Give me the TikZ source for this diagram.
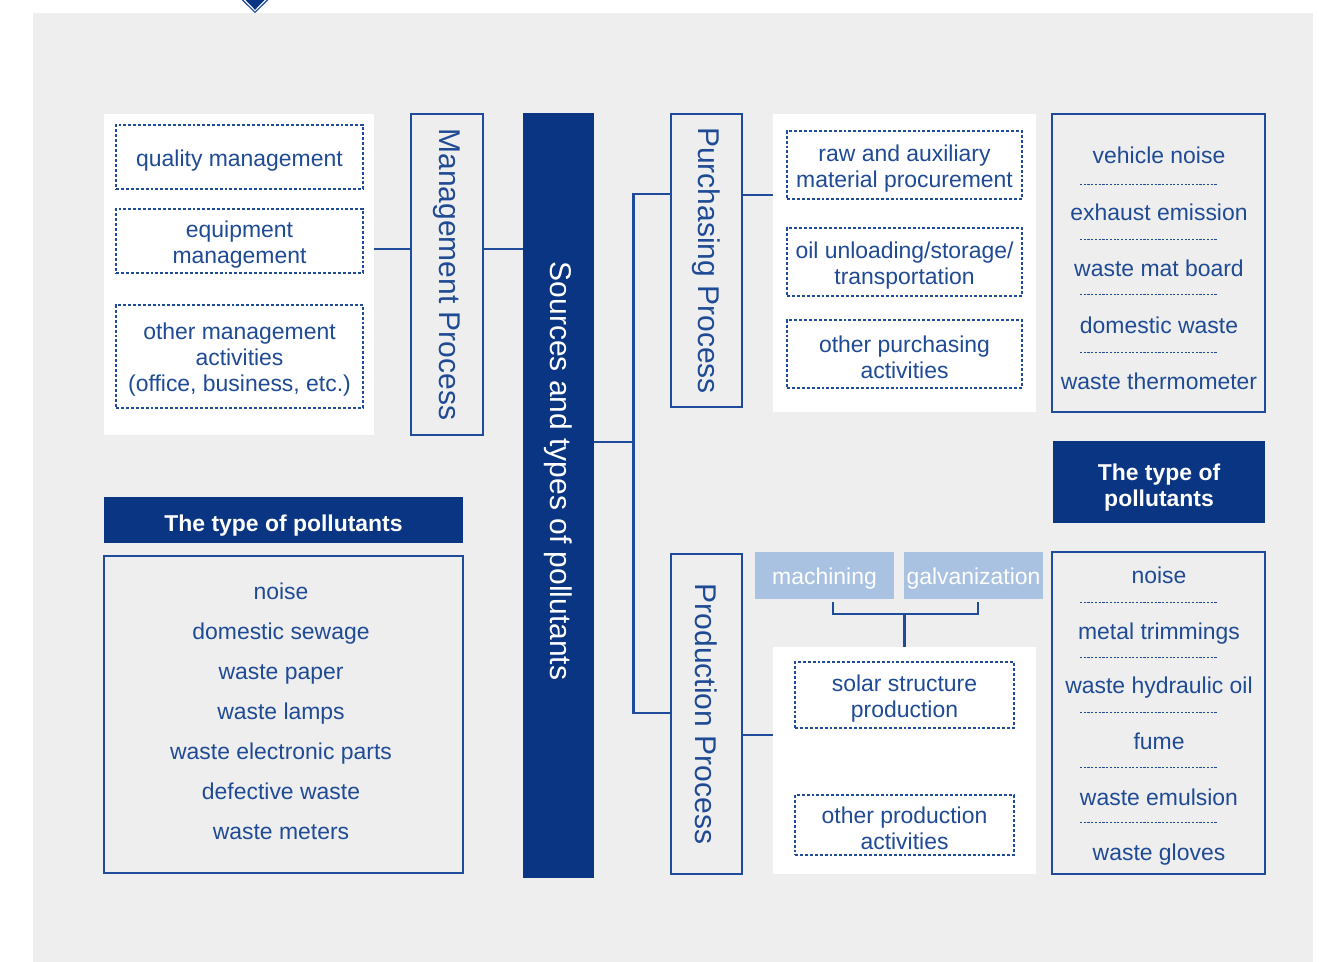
\documentclass[tikz,border=0pt]{standalone}
\usepackage{fontspec}
\setmainfont{Liberation Sans}
\usetikzlibrary{fit}
\definecolor{bgc}{HTML}{EEEEEE}
\definecolor{dblue}{HTML}{0A3582}
\definecolor{tblue}{HTML}{1F4A94}
\definecolor{lblue}{HTML}{1F4C9A}
\definecolor{pale}{HTML}{A9C2E2}
\begin{document}
\begin{tikzpicture}[x=0.75pt,y=-0.75pt,
  every node/.style={font=\fontsize{17.2}{19.5}\selectfont, text=tblue, inner sep=0pt},
  item/.style={text height=16pt, text depth=3pt},
  panel/.style={fill=white},
  dbox/.style={draw=lblue, line width=0.9pt, dash pattern=on 2.2pt off 1.5pt},
  txt/.style={label={[align=center, text=tblue, yshift=-2.5pt]center:#1}},
  wtxt/.style={label={[align=center, text=white, yshift=-2pt]center:#1}},
  btxt/.style={label={[align=center, text=white, yshift=-4pt, font=\fontsize{17.2}{19.5}\selectfont\bfseries]center:#1}},
  proc/.style={draw=lblue, line width=1.6pt, fill=bgc},
  conn/.style={draw=lblue, line width=1.6pt},
  plist/.style={draw=lblue, line width=0.9pt},
  sepline/.style={draw=lblue, line width=0.6pt, dash pattern=on 1.6pt off 1.2pt},
  hdr/.style={fill=dblue},
  palebox/.style={fill=pale},
  rot/.style={rotate=-90, font=\fontsize{22.5}{26}\selectfont},
]
\useasboundingbox (0,0) rectangle (1319,962);
\fill[bgc] (33,13) rectangle (1313,962);
% top diamond marker
\fill[lblue] (241.5,0) -- (255,13) -- (268.5,0) -- cycle;
\fill[white] (243.5,0) -- (255,11.5) -- (266.5,0) -- cycle;
\fill[dblue] (245.5,0) -- (255,9.8) -- (264.5,0) -- cycle;

% ---------- management side ----------
\node[panel, fit={(104,114) (374,435)}] (wl) {};
\node[dbox, fit={(116,125) (363,189)}, txt={quality management}] (qm) {};
\node[dbox, fit={(116,209) (363,273)}, txt={equipment\\management}] (em) {};
\node[dbox, fit={(116,305) (363,408)}, txt={other management\\activities\\(office, business, etc.)}] (om) {};
\node[proc, fit={(411,114) (483,435)}, label={[rot]center:Management Process}] (mp) {};

% ---------- central bar ----------
\node[fill=dblue, fit={(523,113) (594,878)}] (src) {};
\node[rot, text=white] (srctxt) at (558.5,471) {Sources and types of pollutants};

% ---------- purchasing ----------
\node[proc, fit={(671,114) (742,407)}, label={[rot]center:Purchasing Process}] (pp) {};
\node[panel, fit={(773,114) (1036,412)}] (wr1) {};
\node[dbox, fit={(787,131) (1022,199)}, txt={raw and auxiliary\\material procurement}] (raw) {};
\node[dbox, fit={(787,228) (1022,296)}, txt={oil unloading/storage/\\transportation}] (oil) {};
\node[dbox, fit={(787,320) (1022,388)}, txt={other purchasing\\activities}] (opa) {};

\node[plist, fit={(1052,114) (1265,412)}] (pl1) {};
\node[item] (a1) at (1159,155) {vehicle noise};
\node[item] (a2) at (1159,212) {exhaust emission};
\node[item] (a3) at (1159,268) {waste mat board};
\node[item] (a4) at (1159,325) {domestic waste};
\node[item] (a5) at (1159,381) {waste thermometer};
\foreach \y in {184,239,294,352} \draw[sepline] (1080,\y) -- (1217,\y);

\node[hdr, fit={(1053,441) (1265,523)}, btxt={The type of\\pollutants}] (h2) {};

% ---------- production ----------
\node[proc, fit={(671,554) (742,874)}, label={[rot]center:Production Process}] (prod) {};
\node[palebox, fit={(755,552) (894,599)}, wtxt={machining}] (mach) {};
\node[palebox, fit={(904,552) (1043,599)}, wtxt={galvanization}] (galv) {};
\node[panel, fit={(773,647) (1036,874)}] (wr2) {};
\node[dbox, fit={(795,662) (1014,728)}, txt={solar structure\\production}] (ssp) {};
\node[dbox, fit={(795,795) (1014,855)}, txt={other production\\activities}] (opr) {};

\node[plist, fit={(1052,552) (1265,874)}] (pl2) {};
\node[item] (b1) at (1159,575) {noise};
\node[item] (b2) at (1159,631) {metal trimmings};
\node[item] (b3) at (1159,685) {waste hydraulic oil};
\node[item] (b4) at (1159,741) {fume};
\node[item] (b5) at (1159,797) {waste emulsion};
\node[item] (b6) at (1159,852) {waste gloves};
\foreach \y in {602,657,712,767,822} \draw[sepline] (1080,\y) -- (1218,\y);

% ---------- left pollutants ----------
\node[hdr, fit={(104,497) (463,543)}, btxt={The type of pollutants}] (h1) {};
\node[plist, fit={(104,556) (463,873)}] (pl3) {};
\node[item] (c1) at (281,591) {noise};
\node[item] (c2) at (281,631) {domestic sewage};
\node[item] (c3) at (281,671) {waste paper};
\node[item] (c4) at (281,711) {waste lamps};
\node[item] (c5) at (281,751) {waste electronic parts};
\node[item] (c6) at (281,791) {defective waste};
\node[item] (c7) at (281,831) {waste meters};

% ---------- connectors ----------
\draw[conn] (wl.east |- 0,249) -- (mp.west |- 0,249);
\draw[conn] (mp.east |- 0,249) -- (src.west |- 0,249);
\coordinate (jn) at (633.5,442);
\coordinate (jt) at (633.5,194);
\coordinate (jb) at (633.5,713);
\draw[conn] (src.east |- jn) -- (jn);
\draw[conn] (pp.west |- jt) -- (jt) -- (jb) -- (prod.west |- jb);
\draw[conn] (pp.east |- 0,195) -- (wr1.west |- 0,195);
\draw[conn] (prod.east |- 0,735) -- (wr2.west |- 0,735);
\coordinate (bl) at (833,602);
\coordinate (br) at (978,602);
\coordinate (bm) at (904.5,614);
\draw[conn] (bl) -- (bl |- bm) -- (br |- bm) -- (br);
\draw[conn] (bm) -- (wr2.north);
\end{tikzpicture}
\end{document}
